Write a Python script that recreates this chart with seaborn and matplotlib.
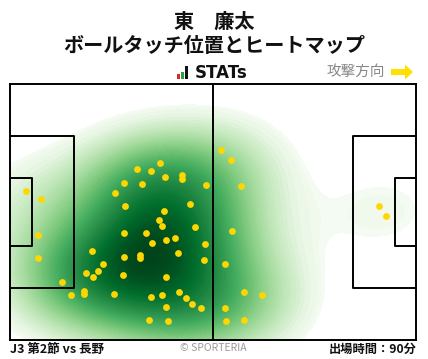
import matplotlib
matplotlib.use("Agg")
import matplotlib.pyplot as plt
import matplotlib.patches as mpatches
from matplotlib.colors import ListedColormap
import numpy as np
import pandas as pd
import seaborn as sns

# ---- data (0-100 pitch coordinates, x: own goal -> attack, y: top -> bottom)
touch_x = [36.9, 31.3, 34.7, 38.2, 42.4, 42.4, 28.1, 32.5, 48.3, 25.9,
           28.3, 44.3, 37.9, 36.7, 37.4, 45.6, 28.1, 33.5, 38.4, 40.6,
           35.0, 48.0, 20.0, 28.1, 32.0, 32.0, 41.4, 47.8, 22.9, 21.7,
           18.7, 20.4, 27.8, 38.4, 12.8, 18.2, 18.2, 15.0, 25.6, 34.7,
           37.4, 41.6, 43.3, 44.8, 47.0, 38.4, 34.2, 38.9, 3.9, 7.6,
           6.7, 6.9, 52.0, 54.4, 56.7, 54.7, 53.0, 57.6, 62.1, 53.0,
           53.2, 57.6, 90.9, 92.6]
touch_y = [31.0, 33.3, 34.1, 36.5, 35.6, 37.3, 38.8, 39.2, 39.6, 42.7,
           47.5, 47.1, 49.8, 53.3, 55.7, 56.1, 58.4, 58.4, 61.1, 60.3,
           62.0, 62.7, 65.5, 67.8, 66.7, 68.2, 66.3, 69.0, 70.6, 73.3,
           74.1, 75.7, 74.9, 75.7, 77.3, 80.8, 82.0, 82.7, 82.0, 83.5,
           82.7, 81.2, 83.9, 85.9, 87.5, 87.1, 92.2, 92.9, 42.0, 45.1,
           59.2, 68.2, 25.9, 29.8, 40.0, 57.6, 70.6, 81.2, 82.7, 87.8,
           92.9, 92.2, 47.8, 51.8]

player_name = "東　廉太"
chart_title = "ボールタッチ位置とヒートマップ"
match_label = "J3 第2節 vs 長野"
minutes_label = "出場時間：90分"
direction_label = "攻撃方向"
credit_label = "© SPORTERIA"

df = pd.DataFrame({"x": touch_x, "y": touch_y})

sns.set_theme(style="white")
plt.rcParams["font.family"] = ["Noto Sans CJK JP", "DejaVu Sans"]

W, H = 428, 359
fig = plt.figure(figsize=(W / 100, H / 100), dpi=100)

def fx(px):
    return px / W

def fy(py):
    return 1 - py / H

# colormap: Greens with a quicker ramp into the mid greens
base = plt.get_cmap("Greens")
greens = ListedColormap(base(np.linspace(0, 1, 256) ** 0.7))

# pitch axes
left, right, top, bottom = 10.3, 416.3, 84.3, 339.5
ax = fig.add_axes([fx(left), fy(bottom), fx(right - left), fy(top) - fy(bottom)])

sns.kdeplot(data=df, x="x", y="y", fill=True, cmap=greens, levels=90,
            thresh=0.035, bw_adjust=1.45, gridsize=200,
            clip=((0, 100), (0, 100)), ax=ax, zorder=1, antialiased=False)
sns.scatterplot(data=df, x="x", y="y", color="#FFD700", s=24, linewidth=0,
                ax=ax, zorder=5)

# pitch lines (105 x 68 proportions in 0-100 coords)
lc = "black"
lw = 1.4
pa_depth = 16.5 / 105 * 100
pa_half = 40.32 / 68 * 100 / 2
ga_depth = 5.5 / 105 * 100
ga_half = 18.32 / 68 * 100 / 2
ax.plot([50, 50], [0, 100], color=lc, lw=lw, zorder=4)
for x0, d in [(0, pa_depth), (100, -pa_depth)]:
    ax.plot([x0, x0 + d, x0 + d, x0], [50 - pa_half, 50 - pa_half, 50 + pa_half, 50 + pa_half],
            color=lc, lw=lw, zorder=4)
for x0, d in [(0, ga_depth), (100, -ga_depth)]:
    ax.plot([x0, x0 + d, x0 + d, x0], [50 - ga_half, 50 - ga_half, 50 + ga_half, 50 + ga_half],
            color=lc, lw=lw, zorder=4)

ax.set_xlim(0, 100)
ax.set_ylim(100, 0)
ax.set_xlabel("")
ax.set_ylabel("")
ax.set_xticks([])
ax.set_yticks([])
for s in ax.spines.values():
    s.set_visible(True)
    s.set_color("black")
    s.set_linewidth(lw)
ax.set_facecolor("white")

# titles
fig.text(0.5, fy(21), player_name, ha="center", va="center", fontsize=14.5,
         fontweight="bold", color="#111111")
fig.text(0.5, fy(46), chart_title, ha="center", va="center", fontsize=14.5,
         fontweight="bold", color="#111111")

# STATs logo
lax = fig.add_axes([0, 0, 1, 1], facecolor="none")
lax.set_xlim(0, W)
lax.set_ylim(H, 0)
lax.axis("off")
lax.add_patch(mpatches.Rectangle((177, 74), 3, 5, color="#d7282f", lw=0))
lax.add_patch(mpatches.Rectangle((181, 72), 3, 7, color="#2ea043", lw=0))
lax.add_patch(mpatches.Rectangle((185, 66), 3.2, 13, color="#111111", lw=0))
lax.text(195, 73, "STATs", ha="left", va="center", fontsize=12, fontweight="bold",
         color="#111111", family=["DejaVu Sans"])

# direction
lax.text(385, 72, direction_label, ha="right", va="center", fontsize=10.5,
         color="#888888")
arrow = mpatches.FancyArrow(391, 72, 14, 0, width=6, head_width=15, head_length=8,
                            length_includes_head=False, color="#FFE000", lw=0)
lax.add_patch(arrow)

# footer
lax.text(10, 349, match_label, ha="left", va="center", fontsize=9,
         fontweight="bold", color="#111111")
lax.text(213, 348, credit_label, ha="center", va="center", fontsize=7.5,
         color="#999999")
lax.text(417, 349, minutes_label, ha="right", va="center", fontsize=8.8,
         fontweight="bold", color="#111111")

fig.savefig("out.png", dpi=100, facecolor="white")
